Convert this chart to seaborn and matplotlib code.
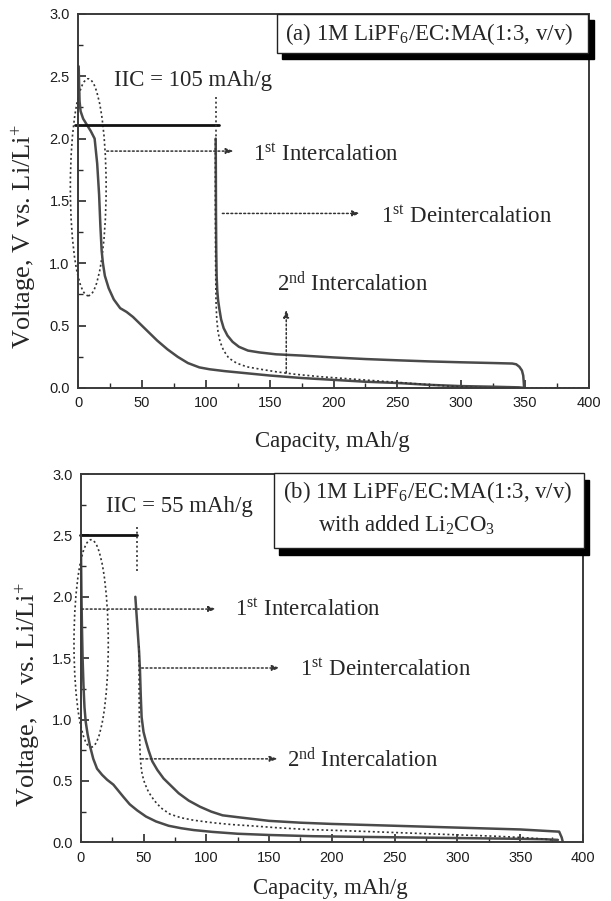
import matplotlib
matplotlib.use("Agg")
import matplotlib.pyplot as plt
import seaborn as sns
import pandas as pd
from matplotlib.patches import Ellipse, Rectangle
from matplotlib.ticker import MultipleLocator

# ---------------- data: panel (a) ----------------
a_int1_x = [0.5, 1.2, 2, 4, 7, 10, 13, 15, 16.5, 17.5, 18.5, 19.5, 21, 24, 28, 33, 38, 43, 48,
            55, 62, 70, 78, 86, 95, 103, 115, 130, 150, 175, 200, 225, 250, 275, 300, 325, 345, 350]
a_int1_y = [2.58, 2.3, 2.22, 2.16, 2.11, 2.06, 2.0, 1.8, 1.55, 1.3, 1.1, 1.0, 0.9, 0.8, 0.71, 0.64,
            0.61, 0.57, 0.52, 0.45, 0.38, 0.31, 0.25, 0.2, 0.165, 0.15, 0.135, 0.12, 0.1, 0.08,
            0.065, 0.05, 0.04, 0.025, 0.015, 0.01, 0.005, 0.0]

a_deint_x = [107.8, 107.9, 108.0, 108.2, 108.5, 109.0, 109.7, 110.7, 112, 114, 117, 121, 126, 133,
             142, 155, 175, 200, 225, 250, 275, 300, 325, 340, 343, 345.5, 347.5, 348.5, 348.9, 349.2]
a_deint_y = [2.0, 1.7, 1.4, 1.1, 0.9, 0.78, 0.7, 0.63, 0.55, 0.48, 0.42, 0.37, 0.33, 0.30, 0.285,
             0.27, 0.26, 0.245, 0.232, 0.222, 0.213, 0.206, 0.2, 0.196, 0.19, 0.17, 0.14, 0.1, 0.05, 0.0]

a_int2_x = [107.5, 107.5, 107.7, 108.0, 108.6, 109.6, 111.2, 114, 118, 124, 132, 143, 155, 170,
            190, 210, 230, 250, 270, 290, 310, 330, 350, 375, 400]
a_int2_y = [2.0, 1.5, 1.0, 0.7, 0.55, 0.45, 0.37, 0.3, 0.24, 0.2, 0.17, 0.15, 0.13, 0.11, 0.09,
            0.075, 0.06, 0.045, 0.03, 0.015, 0.005, 0.0, 0.0, 0.0, 0.0]

a_iic_x = [-2, 110]
a_iic_y = [2.11, 2.11]
a_guide_x = [108, 108]
a_guide_y = [2.33, 2.0]

# ---------------- data: panel (b) ----------------
b_int1_x = [0, 0.3, 0.6, 1.0, 1.5, 2.2, 3.0, 4.0, 5.5, 7.5, 10, 13, 17, 21, 26, 30, 34, 39, 45,
            52, 60, 70, 80, 90, 105, 125, 150, 185, 220, 260, 300, 340, 370, 380]
b_int1_y = [2.5, 2.3, 2.0, 1.75, 1.5, 1.28, 1.1, 0.98, 0.88, 0.78, 0.68, 0.6, 0.55, 0.51, 0.47,
            0.42, 0.37, 0.31, 0.26, 0.21, 0.17, 0.135, 0.115, 0.1, 0.085, 0.07, 0.06, 0.05, 0.045,
            0.04, 0.035, 0.03, 0.025, 0.02]

b_deint_x = [43.5, 44.5, 45.5, 46.5, 47.2, 47.8, 48.5, 50, 52, 54, 57, 61, 66, 72, 78, 86, 95,
             104, 113, 125, 150, 175, 200, 250, 300, 350, 381, 383, 384]
b_deint_y = [2.0, 1.85, 1.7, 1.55, 1.4, 1.2, 1.02, 0.9, 0.82, 0.75, 0.66, 0.59, 0.52, 0.46, 0.4,
             0.34, 0.29, 0.25, 0.22, 0.205, 0.175, 0.16, 0.15, 0.135, 0.12, 0.105, 0.087, 0.04, 0.0]

b_int2_x = [46.5, 46.5, 46.8, 47.3, 48, 49, 51, 54, 58.6, 64, 71, 80, 90, 105, 120, 135, 155, 180,
            210, 250, 290, 330, 350, 365, 375]
b_int2_y = [1.6, 1.2, 0.9, 0.72, 0.62, 0.55, 0.48, 0.41, 0.34, 0.28, 0.23, 0.2, 0.18, 0.16, 0.145,
            0.135, 0.12, 0.105, 0.095, 0.08, 0.065, 0.05, 0.04, 0.03, 0.02]

b_iic_x = [-0.5, 45]
b_iic_y = [2.5, 2.5]
b_guide_x = [45, 45]
b_guide_y = [2.57, 2.2]

x_ticks = [0, 50, 100, 150, 200, 250, 300, 350, 400]
y_ticks = [0.0, 0.5, 1.0, 1.5, 2.0, 2.5, 3.0]

# ---------------- style ----------------
sns.set_style("ticks")
plt.rcParams.update({
    "font.family": ["Liberation Serif", "DejaVu Serif"],
    "mathtext.fontset": "custom",
    "mathtext.rm": "Liberation Serif",
    "mathtext.it": "Liberation Serif:italic",
    "mathtext.bf": "Liberation Serif:bold",
})

SOLID = "#4a4a4a"
DOT = "#333333"
DOTSTYLE = (0, (1.2, 1.6))
FS = 16.5

fig = plt.figure(figsize=(6.11, 9.01), dpi=100)
axA = fig.add_axes([0.1277, 0.5694, 0.8363, 0.4151])
axB = fig.add_axes([0.1321, 0.0651, 0.8221, 0.4088])


def base_axes(ax):
    ax.set_xlim(0, 400)
    ax.set_ylim(0, 3.0)
    ax.set_xticks(x_ticks)
    ax.set_yticks(y_ticks)
    ax.set_xticklabels([str(v) for v in x_ticks])
    ax.set_yticklabels([f"{v:.1f}" for v in y_ticks])
    ax.xaxis.set_minor_locator(MultipleLocator(25))
    ax.yaxis.set_minor_locator(MultipleLocator(0.25))
    ax.tick_params(which="both", direction="in", top=False, right=False, colors="#2a2a2a")
    ax.tick_params(which="major", length=6, width=1.2, pad=6)
    ax.tick_params(which="minor", length=3.5, width=1.0)
    for lab in ax.get_xticklabels() + ax.get_yticklabels():
        lab.set_fontfamily("Liberation Sans")
        lab.set_fontsize(10.5)
        lab.set_color("#1e1e1e")
    for sp in ax.spines.values():
        sp.set_visible(True)
        sp.set_linewidth(1.4)
        sp.set_color("#3a3a3a")
    ax.set_xlabel("Capacity, mAh/g", fontsize=FS)
    ax.set_ylabel(r"Voltage, V vs. Li/Li$^{+}$", fontsize=19)


def line(ax, xs, ys, color, lw, ls="-", clip=True):
    sns.lineplot(x=xs, y=ys, ax=ax, sort=False, estimator=None, color=color,
                 linewidth=lw, linestyle=ls, legend=False)
    ax.lines[-1].set_clip_on(clip)


def arrow(ax, x0, y0, x1, y1):
    ax.annotate("", xy=(x1, y1), xytext=(x0, y0),
                arrowprops=dict(arrowstyle="-|>,head_length=0.45,head_width=0.16",
                                linestyle=DOTSTYLE, lw=1.1, color=DOT,
                                shrinkA=0, shrinkB=0))


def box(ax, x0, y0, w, h, dx, dy):
    ax.add_patch(Rectangle((x0 + dx, y0 - dy), w, h, transform=ax.transAxes,
                           facecolor="black", edgecolor="black", clip_on=False, zorder=5))
    ax.add_patch(Rectangle((x0, y0), w, h, transform=ax.transAxes,
                           facecolor="white", edgecolor="#222222", lw=1.0,
                           clip_on=False, zorder=6))


# ---------------- panel (a) ----------------
ax = axA
base_axes(ax)
line(ax, a_int1_x, a_int1_y, SOLID, 1.8)
line(ax, a_deint_x, a_deint_y, SOLID, 1.8)
line(ax, a_int2_x, a_int2_y, DOT, 1.2, DOTSTYLE)
line(ax, a_iic_x, a_iic_y, "#111111", 2.0, clip=False)
line(ax, a_guide_x, a_guide_y, DOT, 1.2, DOTSTYLE)
ax.add_patch(Ellipse((8, 1.61), 28, 1.74, fill=False, edgecolor=DOT, lw=1.2,
                     linestyle=DOTSTYLE, clip_on=False))
arrow(ax, 22.5, 1.9, 122, 1.9)
arrow(ax, 113, 1.40, 221, 1.40)
arrow(ax, 163, 0.12, 163, 0.63)
ax.text(28, 2.42, "IIC = 105 mAh/g", fontsize=FS, va="baseline", ha="left")
ax.text(136.6, 1.82, r"1$^{\mathrm{st}}$ Intercalation", fontsize=FS, va="baseline", ha="left")
ax.text(237, 1.32, r"1$^{\mathrm{st}}$ Deintercalation", fontsize=FS, va="baseline", ha="left")
ax.text(156, 0.78, r"2$^{\mathrm{nd}}$ Intercalation", fontsize=FS, va="baseline", ha="left")
box(ax, 0.389, 0.895, 0.610, 0.105, 0.0098, 0.016)
ax.text(0.405, 0.929, r"(a) 1M LiPF$_{6}$/EC:MA(1:3, v/v)", transform=ax.transAxes,
        fontsize=FS, va="baseline", ha="left", zorder=7)
ax.xaxis.set_label_coords(0.497, -0.1436)
ax.xaxis.label.set_va("center")
ax.yaxis.set_label_coords(-0.104, 0.404)
ax.yaxis.label.set_va("center")

# ---------------- panel (b) ----------------
ax = axB
base_axes(ax)
line(ax, b_int1_x, b_int1_y, SOLID, 1.8)
line(ax, b_deint_x, b_deint_y, SOLID, 1.8)
line(ax, b_int2_x, b_int2_y, DOT, 1.2, DOTSTYLE)
line(ax, b_iic_x, b_iic_y, "#111111", 2.0, clip=False)
line(ax, b_guide_x, b_guide_y, DOT, 1.2, DOTSTYLE)
ax.add_patch(Ellipse((8.3, 1.62), 27.3, 1.69, fill=False, edgecolor=DOT, lw=1.2,
                     linestyle=DOTSTYLE, clip_on=False))
arrow(ax, 0.8, 1.90, 108, 1.90)
arrow(ax, 48.5, 1.42, 158.7, 1.42)
arrow(ax, 48.5, 0.68, 157, 0.68)
ax.text(20.1, 2.69, "IIC = 55 mAh/g", fontsize=FS, va="baseline", ha="left")
ax.text(122.9, 1.845, r"1$^{\mathrm{st}}$ Intercalation", fontsize=FS, va="baseline", ha="left")
ax.text(174.6, 1.354, r"1$^{\mathrm{st}}$ Deintercalation", fontsize=FS, va="baseline", ha="left")
ax.text(164, 0.616, r"2$^{\mathrm{nd}}$ Intercalation", fontsize=FS, va="baseline", ha="left")
box(ax, 0.385, 0.798, 0.616, 0.204, 0.00995, 0.0176)
ax.text(0.403, 0.934, r"(b) 1M LiPF$_{6}$/EC:MA(1:3, v/v)", transform=ax.transAxes,
        fontsize=FS, va="baseline", ha="left", zorder=7)
ax.text(0.473, 0.843, r"with added Li$_{2}$CO$_{3}$", transform=ax.transAxes,
        fontsize=FS, va="baseline", ha="left", zorder=7)
ax.xaxis.set_label_coords(0.497, -0.125)
ax.xaxis.label.set_va("center")
ax.yaxis.set_label_coords(-0.105, 0.40)
ax.yaxis.label.set_va("center")

fig.savefig("out.png", dpi=100)
